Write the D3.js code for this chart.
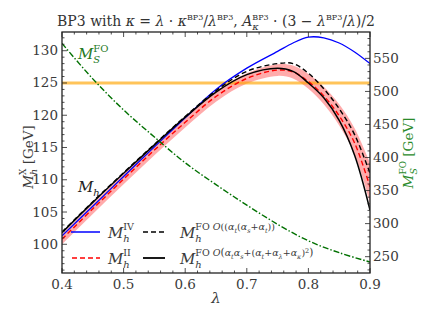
<!DOCTYPE html>
<html><head><meta charset="utf-8">
<script src="https://cdn.jsdelivr.net/npm/d3@7"></script>
<style>
body{margin:0;background:#fff;}
svg text{font-family:"DejaVu Serif",serif;white-space:pre;}
</style></head>
<body><svg id="c" width="432" height="324"></svg>
<script>
// ---------- data ----------
const lambdas   = [0.40,0.45,0.50,0.55,0.60,0.65,0.70,0.75,0.775,0.80,0.825,0.85,0.875,0.90];
const mhIV      = [101.3,105.9,110.5,115.1,119.6,124.0,127.3,129.9,131.2,132.1,132.0,131.2,129.8,128.0];
const mhII      = [100.8,105.5,110.1,114.6,118.9,122.9,125.7,127.0,126.7,125.2,123.0,119.9,115.7,108.9];
const bandLow   = [100.0,104.7,109.3,113.8,118.1,122.1,124.9,126.1,125.7,124.1,121.7,118.4,113.9,106.4];
const bandHigh  = [101.6,106.3,110.9,115.4,119.7,123.7,126.5,127.9,127.7,126.4,124.4,121.7,118.0,112.6];
const mhFO1     = [101.9,106.6,111.1,115.5,119.8,123.8,126.8,128.0,128.0,126.5,124.1,121.0,117.0,111.0];
const mhFO2     = [101.8,106.5,111.0,115.4,119.7,123.6,126.3,127.3,126.8,125.0,122.7,119.2,113.8,105.3];
const lambdaS   = [0.40,0.45,0.50,0.55,0.60,0.65,0.70,0.75,0.80,0.85,0.90];
const msFO      = [572.7,519,472,431,392,359,328,299,274,256,242];
const higgsMass = 125.0;
const xTicks    = [0.4,0.5,0.6,0.7,0.8,0.9];
const yTicksL   = [100,105,110,115,120,125,130];
const yTicksR   = [250,300,350,400,450,500,550];

// ---------- layout ----------
const svg = d3.select("#c");
const L=62,R=370,T=32,B=273;
const x  = d3.scaleLinear().domain([0.4,0.9]).range([L,R]);
const yL = d3.scaleLinear().domain([95.55,132.9]).range([B,T]);
const yR = d3.scaleLinear().domain([225.3,589.9]).range([B,T]);

svg.append("clipPath").attr("id","cp").append("rect").attr("x",L).attr("y",T).attr("width",R-L).attr("height",B-T);
const plot = svg.append("g").attr("clip-path","url(#cp)");
const curve = d3.curveCatmullRom.alpha(0.5);
const idx = d3.range(lambdas.length);

plot.append("path").attr("d", d3.area().curve(curve)
  .x(i=>x(lambdas[i])).y0(i=>yL(bandLow[i])).y1(i=>yL(bandHigh[i]))(idx))
  .attr("fill","#ff0000").attr("fill-opacity",0.33);
plot.append("line").attr("x1",L).attr("x2",R).attr("y1",yL(higgsMass)).attr("y2",yL(higgsMass))
  .attr("stroke","#ffa500").attr("stroke-opacity",0.65).attr("stroke-width",3);

const line = arr => d3.line().curve(curve).x(i=>x(lambdas[i])).y(i=>yL(arr[i]))(idx);
plot.append("path").attr("d",line(mhIV)).attr("fill","none").attr("stroke","#0000ff").attr("stroke-width",1.3);
plot.append("path").attr("d",line(mhFO1)).attr("fill","none").attr("stroke","#000").attr("stroke-width",1.4).attr("stroke-dasharray","5,3");
plot.append("path").attr("d",line(mhII)).attr("fill","none").attr("stroke","#ff0000").attr("stroke-width",1.4).attr("stroke-dasharray","5,3");
plot.append("path").attr("d",line(mhFO2)).attr("fill","none").attr("stroke","#000").attr("stroke-width",1.5);
plot.append("path").attr("d", d3.line().curve(curve).x((d,i)=>x(lambdaS[i])).y(d=>yR(d))(msFO))
  .attr("fill","none").attr("stroke","#007000").attr("stroke-width",1.4).attr("stroke-dasharray","6,2,1.5,2");

// ---------- axes / ticks ----------
const ax = svg.append("g");
ax.append("rect").attr("x",L).attr("y",T).attr("width",R-L).attr("height",B-T).attr("fill","none").attr("stroke","#222").attr("stroke-width",1.3);
const tk = (x1,y1,x2,y2)=>ax.append("line").attr("x1",x1).attr("y1",y1).attr("x2",x2).attr("y2",y2).attr("stroke","#222").attr("stroke-width",0.8);
d3.range(0.4,0.9001,0.02).forEach(v=>{
  const major = Math.abs(v*10-Math.round(v*10))<1e-6, len = major?5:2.5;
  tk(x(v),B,x(v),B-len); tk(x(v),T,x(v),T+len);
});
const fsT = 13.5, tc = "#3a3a3a";
xTicks.forEach(v=>ax.append("text").attr("x",x(v)).attr("y",289).attr("text-anchor","middle").attr("font-size",fsT).attr("fill",tc).text(d3.format(".1f")(v)));
d3.range(96,133,1).forEach(v=>{const len = v%5===0?5:2.5; tk(L,yL(v),L+len,yL(v));});
yTicksL.forEach(v=>ax.append("text").attr("x",58).attr("y",yL(v)+4.5).attr("text-anchor","end").attr("font-size",fsT).attr("fill",tc).text(v));
d3.range(230,590,10).forEach(v=>{const len = v%50===0?5:2.5; tk(R,yR(v),R-len,yR(v));});
yTicksR.forEach(v=>ax.append("text").attr("x",373).attr("y",yR(v)+4.5).attr("text-anchor","start").attr("font-size",fsT).attr("fill",tc).text(v));

// ---------- math text helper ----------
function mtext(g, x0, y0, segs, color, anchor){
  const grp = g.append("g");
  let cx = 0, prevStart = 0, prevW = 0, maxEnd = 0;
  segs.forEach(([t,o])=>{
    o = o||{};
    let sx = o.back ? prevStart : cx;
    const el = grp.append("text").attr("x",sx).attr("y",(o.dy||0)).attr("font-size",o.s||14)
      .attr("fill",color).style("font-style",o.i?"italic":"normal").text(t);
    const w = el.node().getComputedTextLength();
    if(o.back){ cx = Math.max(prevStart+prevW, sx+w); }
    else { prevStart = sx; prevW = w; cx = sx + w; }
    maxEnd = Math.max(maxEnd,cx);
  });
  const shift = anchor==="middle" ? -maxEnd/2 : 0;
  grp.attr("transform",`translate(${x0+shift},${y0})`);
  return grp;
}

// title
const ts = 14, tsup = 8;
mtext(svg, 216, 26, [
  ["BP3 with ",{s:ts}],["κ",{i:1,s:ts}],[" = ",{s:ts}],["λ",{i:1,s:ts}],[" · ",{s:ts}],["κ",{i:1,s:ts}],
  ["BP3",{s:tsup,dy:-6}],["/",{s:ts}],["λ",{i:1,s:ts}],["BP3",{s:tsup,dy:-6}],[", ",{s:ts}],
  ["A",{i:1,s:ts}],["κ",{i:1,s:10,dy:3.5}],["BP3",{s:tsup,dy:-6,back:true}],[" · (3 − ",{s:ts}],["λ",{i:1,s:ts}],
  ["BP3",{s:tsup,dy:-6}],["/",{s:ts}],["λ",{i:1,s:ts}],[")/2",{s:ts}]
], "#333", "middle");

// axis labels
const gl = svg.append("g").attr("transform","translate(33,157) rotate(-90)");
mtext(gl, 0, 0, [["M",{i:1,s:13.5}],["h",{i:1,s:9.5,dy:3.5}],["X",{s:9,dy:-7,back:true}],[" [GeV]",{s:13.5}]], tc, "middle");
const gr = svg.append("g").attr("transform","translate(413,153) rotate(-90)");
mtext(gr, 0, 0, [["M",{i:1,s:13.5}],["S",{i:1,s:9.5,dy:3.5}],["FO",{s:9,dy:-7,back:true}],[" [GeV]",{s:13.5}]], "#2a8a2a", "middle");
svg.append("text").attr("x",216).attr("y",303).attr("text-anchor","middle").attr("font-size",15).style("font-style","italic").attr("fill",tc).text("λ");

mtext(svg, 78, 192, [["M",{i:1,s:15}],["h",{i:1,s:10,dy:3.5}]], "#222");
mtext(svg, 78, 59, [["M",{i:1,s:15}],["S",{i:1,s:10,dy:3.5}],["FO",{s:10,dy:-7,back:true}]], "#1f7a1f");

// legend
const lg = svg.append("g");
const legLine = (x1,x2,y,col,dash,w)=>lg.append("line").attr("x1",x1).attr("x2",x2).attr("y1",y).attr("y2",y).attr("stroke",col).attr("stroke-width",w||1.5).attr("stroke-dasharray",dash||null);
legLine(71,100,232,"#0000ff",null,1.5);
legLine(72,100,258,"#ff0000","5,3",1.5);
legLine(143,165,232,"#000","5,3",1.5);
legLine(143,165,258,"#000",null,1.8);
mtext(lg,108,238,[["M",{i:1,s:15}],["h",{i:1,s:10,dy:4}],["IV",{s:9.5,dy:-8,back:true}]],tc);
mtext(lg,108,264,[["M",{i:1,s:15}],["h",{i:1,s:10,dy:4}],["II",{s:9.5,dy:-8,back:true}]],tc);
const sS = 9.5, sI = 6.5, sup=-8, sub=-5.5;
mtext(lg,180,238,[["M",{i:1,s:15}],["h",{i:1,s:10,dy:4}],["FO ",{s:sS,dy:sup,back:true}],
  ["O",{i:1,s:sS,dy:sup}],["((",{s:sS,dy:sup}],["α",{i:1,s:sS,dy:sup}],["t",{i:1,s:sI,dy:sub}],["(",{s:sS,dy:sup}],
  ["α",{i:1,s:sS,dy:sup}],["s",{i:1,s:sI,dy:sub}],["+",{s:sS,dy:sup}],["α",{i:1,s:sS,dy:sup}],["t",{i:1,s:sI,dy:sub}],["))",{s:sS,dy:sup}]],tc);
mtext(lg,180,264,[["M",{i:1,s:15}],["h",{i:1,s:10,dy:4}],["FO ",{s:sS,dy:sup,back:true}],
  ["O",{i:1,s:sS,dy:sup}],["(",{s:sS+1,dy:sup}],["α",{i:1,s:sS,dy:sup}],["t",{i:1,s:sI,dy:sub}],["α",{i:1,s:sS,dy:sup}],["s",{i:1,s:sI,dy:sub}],
  ["+(",{s:sS,dy:sup}],["α",{i:1,s:sS,dy:sup}],["t",{i:1,s:sI,dy:sub}],["+",{s:sS,dy:sup}],["α",{i:1,s:sS,dy:sup}],["λ",{i:1,s:sI,dy:sub}],
  ["+",{s:sS,dy:sup}],["α",{i:1,s:sS,dy:sup}],["κ",{i:1,s:sI,dy:sub}],[")",{s:sS,dy:sup}],["2",{s:sI,dy:sup-3}],[")",{s:sS+1,dy:sup}]],tc);
</script></body></html>
